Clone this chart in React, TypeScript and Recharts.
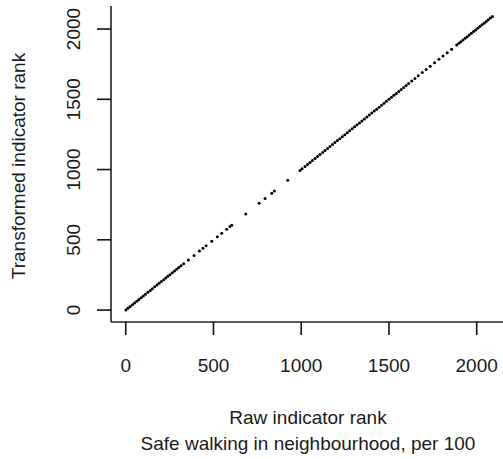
import { ScatterChart, Scatter, XAxis, YAxis } from 'recharts'

// ranks (raw rank == transformed rank, every point sits on y = x)
const RANK = [
  1, 12, 25, 38, 50, 63, 75, 88, 100, 112, 126, 140, 152, 165, 178, 190, 203, 216, 228, 240,
  252, 265, 278, 290, 302, 315, 330, 357, 389, 420, 440, 458, 490, 522, 547, 575, 594, 604,
  684, 760, 794, 832, 847, 923,
  993, 1005, 1022, 1036, 1050, 1064, 1079, 1093, 1107, 1122, 1136, 1150, 1164, 1178, 1192,
  1206, 1220, 1234, 1248, 1262, 1276, 1290, 1304, 1318, 1332, 1346, 1360, 1374, 1388, 1402,
  1416, 1430, 1444, 1458, 1472, 1486, 1500, 1514, 1528, 1542, 1556, 1570, 1584, 1598, 1612,
  1630, 1648, 1667, 1690, 1712, 1735, 1760, 1785, 1808, 1832, 1857, 1886, 1898, 1910, 1922,
  1934, 1946, 1958, 1970, 1982, 1994, 2006, 2018, 2030, 2042, 2054, 2066, 2078, 2090,
]
const X_TICKS = [0, 500, 1000, 1500, 2000]
const Y_TICKS = [0, 500, 1000, 1500, 2000]
const X_TITLE = 'Raw indicator rank'
const X_SUBTITLE = 'Safe walking in neighbourhood, per 100'
const Y_TITLE = 'Transformed indicator rank'

const FONT = '"Liberation Sans", Arial, Helvetica, sans-serif'
const INK = '#1a1a1a'

const data = RANK.map(r => ({ raw: r, transformed: r }))

const renderXTick = ({ x, y, payload }: any) => (
  <text key={`x${payload.value}`} x={x} y={y + 28} textAnchor="middle" dominantBaseline="central" fontSize={19} fill={INK} fontFamily={FONT}>
    {payload.value}
  </text>
)

// y tick labels sit parallel to the axis, like base R
const renderYTick = ({ y, payload }: any) => (
  <g key={`y${payload.value}`} transform={`translate(73, ${y}) rotate(-90)`}>
    <text x={0} y={0} textAnchor="middle" dominantBaseline="central" fontSize={19} fill={INK} fontFamily={FONT}>
      {payload.value}
    </text>
  </g>
)

const Dot = (p: any) => <circle cx={p.cx} cy={p.cy} r={1.5} fill="#000" />

export default function App() {
  return (
    <div style={{ position: 'absolute', left: 0, top: 0, width: 503, height: 459, overflow: 'hidden', background: '#fff' }}>
      <ScatterChart width={510} height={459} margin={{ top: 6, right: 4, left: 0, bottom: 0 }}>
        <YAxis yAxisId="main" orientation="left" dataKey="transformed" type="number" domain={[-85, 2164]} allowDataOverflow ticks={Y_TICKS} interval={0} width={111} tickSize={14} tickMargin={2} tickLine={{ stroke: '#111', strokeWidth: 1.6 }} axisLine={{ stroke: '#222', strokeWidth: 1.6 }} tick={renderYTick} />
        <XAxis xAxisId="main" orientation="bottom" dataKey="raw" type="number" domain={[-84, 2167]} allowDataOverflow ticks={X_TICKS} interval={0} height={137} tickSize={13} tickMargin={2} tickLine={{ stroke: '#111', strokeWidth: 1.6 }} axisLine={{ stroke: '#222', strokeWidth: 1.6 }} tick={renderXTick} />
        <XAxis xAxisId="top" orientation="top" dataKey="raw" type="number" domain={[-84, 2167]} allowDataOverflow height={0} tick={false} tickLine={false} axisLine={{ stroke: '#222', strokeWidth: 1.6 }} />
        <YAxis yAxisId="right" orientation="right" dataKey="transformed" type="number" domain={[-85, 2164]} allowDataOverflow width={0} tick={false} tickLine={false} axisLine={{ stroke: '#222', strokeWidth: 1.6 }} />
        <Scatter xAxisId="main" yAxisId="main" data={data} shape={<Dot />} isAnimationActive={false} />
      </ScatterChart>
      <svg width={503} height={459} style={{ position: 'absolute', left: 0, top: 0, pointerEvents: 'none' }}>
        <text x={308} y={417} textAnchor="middle" dominantBaseline="central" fontSize={19} fill={INK} fontFamily={FONT}>{X_TITLE}</text>
        <text x={308} y={443} textAnchor="middle" dominantBaseline="central" fontSize={19} fill={INK} fontFamily={FONT}>{X_SUBTITLE}</text>
        <g transform="translate(18, 166) rotate(-90)">
          <text x={0} y={0} textAnchor="middle" dominantBaseline="central" fontSize={19} fill={INK} fontFamily={FONT}>{Y_TITLE}</text>
        </g>
      </svg>
    </div>
  )
}
